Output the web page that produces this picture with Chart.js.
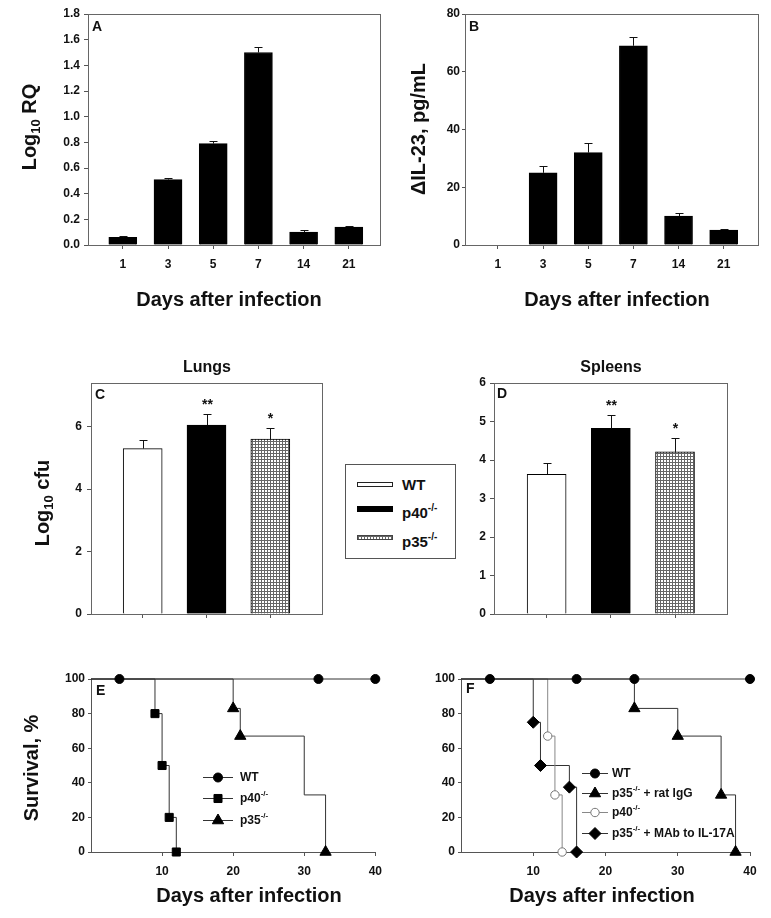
<!DOCTYPE html>
<html>
<head>
<meta charset="utf-8">
<script src="https://cdn.jsdelivr.net/npm/chart.js@4.4.1/dist/chart.umd.min.js"></script>
<style>
  body { margin: 0; background: #fff; }
  #fig { position: relative; width: 771px; height: 918px; background: #fff; overflow: hidden;
         font-family: "Liberation Sans", Arial, sans-serif; font-weight: bold; color: #111; }
  canvas { position: absolute; }
  #legCD { position: absolute; left: 345px; top: 464px; width: 109px; height: 93px;
           border: 1px solid #555; background: #fff; z-index: 5; }
  #legCD .sw { position: absolute; left: 11px; width: 36px; box-sizing: border-box; }
  #legCD .lb { position: absolute; left: 56px; font-size: 15px; line-height: 18px; white-space: nowrap; }
  #legCD sup { font-size: 10px; position: relative; top: -1px; }
</style>
</head>
<body>
<div id="fig">
  <canvas id="cA" width="385" height="320" style="left:0;top:0"></canvas>
  <canvas id="cB" width="381" height="320" style="left:390px;top:0"></canvas>
  <canvas id="cC" width="340" height="300" style="left:0;top:330px"></canvas>
  <canvas id="cD" width="381" height="300" style="left:390px;top:330px"></canvas>
  <canvas id="cE" width="390" height="268" style="left:0;top:650px"></canvas>
  <canvas id="cF" width="381" height="268" style="left:390px;top:650px"></canvas>
  <div id="legCD">
    <div class="sw" style="top:17px;height:5px;border:1px solid #222;background:#fff"></div>
    <div class="lb" style="top:11px">WT</div>
    <div class="sw" style="top:41px;height:6px;background:#000"></div>
    <div class="lb" style="top:35px">p40<sup>-/-</sup></div>
    <div class="sw" style="top:70px;height:5px;border:1px solid #444;background-color:#fff;
         background-image:linear-gradient(90deg,#666 1px,transparent 1px),linear-gradient(#666 1px,transparent 1px);
         background-size:3px 3px"></div>
    <div class="lb" style="top:64px">p35<sup>-/-</sup></div>
  </div>
</div>
<script>
// ---- data ----
const days = ['1', '3', '5', '7', '14', '21'];
const rqMean = [0.06, 0.51, 0.79, 1.50, 0.10, 0.14];
const rqSem = [0.01, 0.013, 0.024, 0.04, 0.013, 0.01];
const il23Mean = [0, 25, 32, 69, 10, 5.2];
const il23Sem = [0, 2.4, 3.2, 3.1, 1.0, 0.4];

const groups = ['WT', 'p40-/-', 'p35-/-'];
const lungMean = [5.3, 6.05, 5.6];
const lungSem = [0.27, 0.37, 0.35];
const spleenMean = [3.63, 4.82, 4.21];
const spleenSem = [0.29, 0.35, 0.36];
const signif = ['', '**', '*'];

// survival (days, % alive, marker shown)
const eWtDays = [0, 4, 32, 40];
const eWtSurv = [100, 100, 100, 100];
const eWtMark = [0, 1, 1, 1];
const eP40Days = [0, 9, 10, 11, 12];
const eP40Surv = [100, 80, 50, 20, 0];
const eP40Mark = [0, 1, 1, 1, 1];
const eP35Days = [0, 20, 21, 30, 33];
const eP35Surv = [100, 83, 67, 33, 0];
const eP35Mark = [0, 1, 1, 0, 1];

const fWtDays = [0, 4, 16, 24, 40];
const fWtSurv = [100, 100, 100, 100, 100];
const fWtMark = [0, 1, 1, 1, 1];
const fIgGDays = [0, 24, 30, 36, 38];
const fIgGSurv = [100, 83, 67, 33, 0];
const fIgGMark = [0, 1, 1, 1, 1];
const fP40Days = [0, 12, 13, 14];
const fP40Surv = [100, 67, 33, 0];
const fP40Mark = [0, 1, 1, 1];
const fMAbDays = [0, 10, 11, 15, 16];
const fMAbSurv = [100, 75, 50, 37.5, 0];
const fMAbMark = [0, 1, 1, 1, 1];

const survTicks = [10, 20, 30, 40];

// ---- helpers ----
const FONT = '"Liberation Sans", Arial, sans-serif';
Chart.defaults.font.family = FONT;
Chart.defaults.font.weight = 'bold';
Chart.defaults.font.size = 12;
Chart.defaults.color = '#111';
Chart.defaults.animation = false;
Chart.defaults.plugins.legend.display = false;
Chart.defaults.plugins.tooltip.enabled = false;

function richText(ctx, x, y, parts, size, align, rot) {
  ctx.save();
  ctx.translate(x, y);
  if (rot) ctx.rotate(rot);
  ctx.textBaseline = 'middle';
  ctx.textAlign = 'left';
  ctx.fillStyle = '#111';
  const segs = parts.map(p => {
    const s = typeof p === 'string' ? { t: p } : p;
    const sz = (s.sub || s.sup) ? Math.round(size * 0.65) : size;
    ctx.font = 'bold ' + sz + 'px ' + FONT;
    return { t: s.t, sz: sz, w: ctx.measureText(s.t).width,
             dy: s.sub ? size * 0.3 : (s.sup ? -size * 0.38 : 0) };
  });
  const total = segs.reduce((a, s) => a + s.w, 0);
  let cx = align === 'center' ? -total / 2 : 0;
  segs.forEach(s => {
    ctx.font = 'bold ' + s.sz + 'px ' + FONT;
    ctx.fillText(s.t, cx, s.dy);
    cx += s.w;
  });
  ctx.restore();
}

// text items are given in page coordinates
function textPlugin(offX, offY, items) {
  return {
    id: 'txt',
    afterDraw(chart) {
      items.forEach(it => richText(chart.ctx, it.x - offX, it.y - offY, it.parts,
        it.size || 20, it.align || 'center', it.rot ? -Math.PI / 2 : 0));
    }
  };
}

const framePlugin = {
  id: 'frame',
  afterDraw(chart) {
    const a = chart.chartArea, ctx = chart.ctx;
    ctx.save();
    ctx.strokeStyle = '#666';
    ctx.lineWidth = 1;
    ctx.strokeRect(Math.round(a.left) + 0.5, Math.round(a.top) + 0.5,
      Math.round(a.right - a.left), Math.round(a.bottom - a.top));
    ctx.restore();
  }
};

const errPlugin = {
  id: 'err',
  afterDatasetsDraw(chart) {
    const ctx = chart.ctx, ys = chart.scales.y;
    chart.data.datasets.forEach((ds, di) => {
      if (!ds.sem) return;
      chart.getDatasetMeta(di).data.forEach((el, i) => {
        const s = ds.sem[i];
        if (!s) return;
        const x = Math.round(el.x) + 0.5;
        const yTop = Math.round(ys.getPixelForValue(ds.data[i].y + s)) + 0.5;
        ctx.save();
        ctx.strokeStyle = '#111';
        ctx.lineWidth = 1;
        ctx.beginPath();
        ctx.moveTo(x, el.y);
        ctx.lineTo(x, yTop);
        ctx.moveTo(x - 4, yTop);
        ctx.lineTo(x + 4, yTop);
        ctx.stroke();
        if (ds.stars && ds.stars[i]) {
          ctx.font = 'bold 14px ' + FONT;
          ctx.fillStyle = '#111';
          ctx.textAlign = 'center';
          ctx.textBaseline = 'alphabetic';
          ctx.fillText(ds.stars[i], x, yTop - 6);
        }
        ctx.restore();
      });
    });
  }
};

function drawMarker(ctx, style, r, x, y, fill, stroke) {
  ctx.save();
  ctx.fillStyle = fill;
  ctx.strokeStyle = stroke;
  ctx.lineWidth = 1;
  if (Chart.helpers && Chart.helpers.drawPoint) {
    Chart.helpers.drawPoint(ctx, { pointStyle: style, radius: r, rotation: 0, borderWidth: 1 }, x, y);
  } else {
    ctx.beginPath();
    ctx.arc(x, y, r, 0, Math.PI * 2);
    ctx.fill();
    ctx.stroke();
  }
  ctx.restore();
}

function lineLegendPlugin(offX, offY, x0, x1, xText, rows) {
  return {
    id: 'lleg',
    afterDraw(chart) {
      const ctx = chart.ctx;
      rows.forEach(r => {
        const y = Math.round(r.y - offY) + 0.5;
        ctx.save();
        ctx.strokeStyle = r.line;
        ctx.lineWidth = 1;
        ctx.beginPath();
        ctx.moveTo(x0 - offX, y);
        ctx.lineTo(x1 - offX, y);
        ctx.stroke();
        ctx.restore();
        drawMarker(ctx, r.style, r.r, (x0 + x1) / 2 - offX, y, r.fill, r.stroke);
        richText(ctx, xText - offX, y, r.parts, 12, 'left', 0);
      });
    }
  };
}

function axisCommon(tickLen, pad) {
  return {
    offset: false,
    border: { color: '#555', width: 1 },
    grid: { drawOnChartArea: false, drawTicks: true, tickLength: tickLen, color: '#555', offset: false },
    ticks: { padding: pad, font: { size: 12, weight: 'bold' }, color: '#111' }
  };
}

function barChart(id, p) {
  const x = axisCommon(4, 8);
  Object.assign(x, {
    type: 'linear', min: p.xmin, max: p.xmax,
    afterBuildTicks: s => { s.ticks = p.labels.map((l, i) => ({ value: i })); },
    afterFit: s => { s.height = p.xH; }
  });
  x.ticks.autoSkip = false;
  x.ticks.maxRotation = 0;
  x.ticks.callback = v => p.showLabels ? p.labels[v] : '';
  const y = axisCommon(p.yTick, p.yPad);
  Object.assign(y, {
    min: 0, max: p.ymax,
    afterBuildTicks: s => { s.ticks = p.yTicks.map(v => ({ value: v })); },
    afterFit: s => { s.width = p.yW; }
  });
  y.ticks.callback = p.yFmt;
  return new Chart(document.getElementById(id), {
    type: 'bar',
    data: {
      datasets: [{
        data: p.values.map((v, i) => ({ x: i, y: v })),
        sem: p.sem,
        stars: p.stars,
        backgroundColor: p.fill,
        borderColor: '#000',
        borderWidth: 1,
        barThickness: p.bw
      }]
    },
    options: {
      responsive: false,
      layout: { padding: { top: p.pad[0], right: p.pad[1], bottom: 0, left: 0 } },
      scales: { x: x, y: y }
    },
    plugins: [framePlugin, errPlugin, textPlugin(p.off[0], p.off[1], p.texts)]
  });
}

function gridPattern() {
  const c = document.createElement('canvas');
  c.width = 3; c.height = 3;
  const g = c.getContext('2d');
  g.fillStyle = '#fff';
  g.fillRect(0, 0, 3, 3);
  g.fillStyle = '#666';
  g.fillRect(0, 0, 3, 1);
  g.fillRect(0, 0, 1, 3);
  return g.createPattern(c, 'repeat');
}
const cfuFill = ['#fff', '#000', gridPattern()];

// ---- A ----
barChart('cA', {
  labels: days, values: rqMean, sem: rqSem, fill: '#000', bw: 28, showLabels: true,
  xmin: -0.77, xmax: 5.69, ymax: 1.8, yTicks: [0, 0.2, 0.4, 0.6, 0.8, 1.0, 1.2, 1.4, 1.6, 1.8],
  yFmt: v => v.toFixed(1), yTick: 4, yPad: 4, yW: 88, xH: 75, pad: [14, 5], off: [0, 0],
  texts: [
    { x: 92, y: 27, parts: ['A'], size: 14, align: 'left' },
    { x: 30, y: 127, parts: ['Log', { t: '10', sub: true }, ' RQ'], rot: true },
    { x: 229, y: 300, parts: ['Days after infection'] }
  ]
});

// ---- B ----
barChart('cB', {
  labels: days, values: il23Mean, sem: il23Sem, fill: '#000', bw: 28, showLabels: true,
  xmin: -0.73, xmax: 5.76, ymax: 80, yTicks: [0, 20, 40, 60, 80],
  yFmt: v => v, yTick: 3, yPad: 2, yW: 75, xH: 75, pad: [14, 13], off: [390, 0],
  texts: [
    { x: 469, y: 27, parts: ['B'], size: 14, align: 'left' },
    { x: 419, y: 129, parts: ['\u0394IL-23, pg/mL'], rot: true },
    { x: 617, y: 300, parts: ['Days after infection'] }
  ]
});

// ---- C ----
barChart('cC', {
  labels: groups, values: lungMean, sem: lungSem, stars: signif, fill: cfuFill, bw: 39, showLabels: false,
  xmin: -0.81, xmax: 2.81, ymax: 7.4, yTicks: [0, 2, 4, 6],
  yFmt: v => v, yTick: 4, yPad: 5, yW: 91, xH: 16, pad: [53, 18], off: [0, 330],
  texts: [
    { x: 95, y: 395, parts: ['C'], size: 14, align: 'left' },
    { x: 207, y: 368, parts: ['Lungs'], size: 16 },
    { x: 43, y: 503, parts: ['Log', { t: '10', sub: true }, ' cfu'], rot: true }
  ]
});

// ---- D ----
barChart('cD', {
  labels: groups, values: spleenMean, sem: spleenSem, stars: signif, fill: cfuFill, bw: 39, showLabels: false,
  xmin: -0.82, xmax: 2.81, ymax: 6, yTicks: [0, 1, 2, 3, 4, 5, 6],
  yFmt: v => v, yTick: 4, yPad: 4, yW: 104, xH: 16, pad: [53, 44], off: [390, 330],
  texts: [
    { x: 497, y: 394, parts: ['D'], size: 14, align: 'left' },
    { x: 611, y: 368, parts: ['Spleens'], size: 16 }
  ]
});

// ---- survival panels ----
function survSet(xs, ys, marks, style, r, fill, stroke, line) {
  return {
    data: xs.map((x, i) => ({ x: x, y: ys[i] })),
    stepped: true,
    borderColor: line,
    borderWidth: 1,
    pointStyle: style,
    pointRadius: marks.map(m => m ? r : 0),
    pointBackgroundColor: fill,
    pointBorderColor: stroke,
    pointBorderWidth: 1,
    clip: false
  };
}

function survChart(id, p) {
  const x = axisCommon(4, 8);
  Object.assign(x, {
    type: 'linear', min: 0, max: 40,
    afterBuildTicks: s => { s.ticks = survTicks.map(v => ({ value: v })); },
    afterFit: s => { s.height = 66; }
  });
  const y = axisCommon(3, p.yPad);
  Object.assign(y, {
    min: 0, max: 100,
    afterBuildTicks: s => { s.ticks = [0, 20, 40, 60, 80, 100].map(v => ({ value: v })); },
    afterFit: s => { s.width = p.yW; }
  });
  return new Chart(document.getElementById(id), {
    type: 'line',
    data: { datasets: p.sets },
    options: {
      responsive: false,
      layout: { padding: { top: 29, right: p.padR, bottom: 0, left: 0 } },
      scales: { x: x, y: y }
    },
    plugins: [textPlugin(p.off[0], p.off[1], p.texts),
              lineLegendPlugin(p.off[0], p.off[1], p.leg.x0, p.leg.x1, p.leg.xt, p.leg.rows)]
  });
}

survChart('cE', {
  yW: 91, padR: 10, yPad: 3, off: [0, 650],
  sets: [
    survSet(eWtDays, eWtSurv, eWtMark, 'circle', 4.5, '#000', '#000', '#333'),
    survSet(eP40Days, eP40Surv, eP40Mark, 'rect', 5.7, '#000', '#000', '#333'),
    survSet(eP35Days, eP35Surv, eP35Mark, 'triangle', 6.5, '#000', '#000', '#333')
  ],
  texts: [
    { x: 96, y: 691, parts: ['E'], size: 14, align: 'left' },
    { x: 32, y: 768, parts: ['Survival, %'], rot: true },
    { x: 249, y: 896, parts: ['Days after infection'] }
  ],
  leg: { x0: 203, x1: 233, xt: 240, rows: [
    { y: 777, style: 'circle', r: 4.5, fill: '#000', stroke: '#000', line: '#333', parts: ['WT'] },
    { y: 798, style: 'rect', r: 5.7, fill: '#000', stroke: '#000', line: '#333', parts: ['p40', { t: '-/-', sup: true }] },
    { y: 820, style: 'triangle', r: 6.5, fill: '#000', stroke: '#000', line: '#333', parts: ['p35', { t: '-/-', sup: true }] }
  ] }
});

survChart('cF', {
  yW: 71, padR: 21, yPad: 3, off: [390, 650],
  sets: [
    survSet(fWtDays, fWtSurv, fWtMark, 'circle', 4.5, '#000', '#000', '#333'),
    survSet(fIgGDays, fIgGSurv, fIgGMark, 'triangle', 6.5, '#000', '#000', '#333'),
    survSet(fP40Days, fP40Surv, fP40Mark, 'circle', 4.2, '#fff', '#777', '#888'),
    survSet(fMAbDays, fMAbSurv, fMAbMark, 'rectRot', 6, '#000', '#000', '#333')
  ],
  texts: [
    { x: 466, y: 689, parts: ['F'], size: 14, align: 'left' },
    { x: 602, y: 896, parts: ['Days after infection'] }
  ],
  leg: { x0: 582, x1: 608, xt: 612, rows: [
    { y: 773, style: 'circle', r: 4.5, fill: '#000', stroke: '#000', line: '#333', parts: ['WT'] },
    { y: 793, style: 'triangle', r: 6.5, fill: '#000', stroke: '#000', line: '#333', parts: ['p35', { t: '-/-', sup: true }, ' + rat IgG'] },
    { y: 812, style: 'circle', r: 4.2, fill: '#fff', stroke: '#777', line: '#888', parts: ['p40', { t: '-/-', sup: true }] },
    { y: 833, style: 'rectRot', r: 6, fill: '#000', stroke: '#000', line: '#333', parts: ['p35', { t: '-/-', sup: true }, ' + MAb to IL-17A'] }
  ] }
});
</script>
</body>
</html>
